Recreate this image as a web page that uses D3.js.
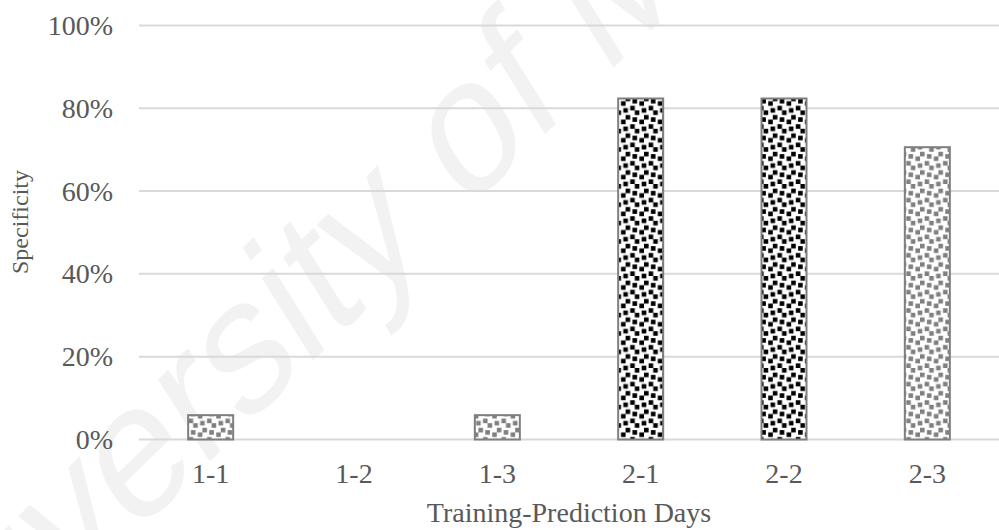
<!DOCTYPE html>
<html>
<head>
<meta charset="utf-8">
<script src="https://cdn.jsdelivr.net/npm/d3@7"></script>
<style>
  html, body { margin: 0; padding: 0; background: #fff; }
  svg { display: block; }
</style>
</head>
<body>
<svg id="chart" width="999" height="530"></svg>
<script>
// Specificity per training/prediction-day split
const categories = ["1-1", "1-2", "1-3", "2-1", "2-2", "2-3"];
const specificity = [0.0588, 0, 0.0588, 0.8235, 0.8235, 0.7059];
const yTicks = [0, 0.2, 0.4, 0.6, 0.8, 1.0];
const yTitle = "Specificity";
const xTitle = "Training-Prediction Days";
const watermark = "University of Malaya";

const svg = d3.select("#chart");
const plot = { left: 139, right: 999, top: 25.4, bottom: 439.5 };

const textColor = "#595959";
const gridColor = "#d9d9d9";
const serif = "'Liberation Serif', 'Times New Roman', serif";

const x = d3.scaleBand()
  .domain(categories)
  .range([plot.left, plot.right])
  .paddingInner(0.686)
  .paddingOuter(0.343);

const y = d3.scaleLinear()
  .domain([0, 1])
  .range([plot.bottom, plot.top]);

// Confetti fill patterns (8x8 bit tile, 2x2 blocks)
const unit = 2.3;
const confettiBlocks = [[4, 0], [0, 2], [3, 3], [6, 4], [2, 6], [7, 7]];
const defs = svg.append("defs");
const patternFor = d3.scaleOrdinal()
  .domain(categories)
  .range(["conf-grey", "conf-grey", "conf-grey", "conf-black", "conf-black", "conf-grey"]);
[["conf-grey", "#7f7f7f"], ["conf-black", "#000000"]].forEach(([id, ink]) => {
  const p = defs.append("pattern")
    .attr("id", id)
    .attr("patternUnits", "userSpaceOnUse")
    .attr("width", unit * 8)
    .attr("height", unit * 8);
  p.append("rect").attr("width", unit * 8).attr("height", unit * 8).attr("fill", "#fff");
  confettiBlocks.forEach(([c, r]) => {
    // blocks that run past the tile edge wrap round to the other side
    [0, -8].forEach(dx => [0, -8].forEach(dy => {
      p.append("rect")
        .attr("x", (c + dx) * unit)
        .attr("y", (r + dy) * unit)
        .attr("width", unit * 2)
        .attr("height", unit * 2)
        .attr("fill", ink);
    }));
  });
});

// Faint watermark behind the chart
svg.append("text")
  .attr("transform", "translate(-118,782) scale(0.8,1) rotate(-38)")
  .attr("font-family", "'Liberation Sans', Arial, sans-serif")
  .attr("font-size", 198)
  .attr("fill", "#000")
  .attr("fill-opacity", 0.05)
  .text(watermark);

// Horizontal gridlines
svg.append("g")
  .attr("class", "grid")
  .selectAll("line")
  .data(yTicks)
  .join("line")
  .attr("x1", plot.left)
  .attr("x2", plot.right)
  .attr("y1", d => y(d))
  .attr("y2", d => y(d))
  .attr("stroke", gridColor)
  .attr("stroke-width", 2);

// Y axis labels
const yAxis = svg.append("g")
  .attr("transform", `translate(${plot.left},0)`)
  .call(d3.axisLeft(y).tickValues(yTicks).tickFormat(d3.format(".0%")).tickSize(0).tickPadding(26));
yAxis.select(".domain").remove();
yAxis.selectAll("text")
  .attr("font-family", serif)
  .attr("font-size", 28)
  .attr("fill", textColor);

// X axis labels
const xAxis = svg.append("g")
  .attr("transform", `translate(0,${plot.bottom})`)
  .call(d3.axisBottom(x).tickSize(0).tickPadding(23.5));
xAxis.select(".domain").remove();
xAxis.selectAll("text")
  .attr("font-family", serif)
  .attr("font-size", 28)
  .attr("fill", textColor);

// Bars
svg.append("g")
  .selectAll("rect")
  .data(categories.map((c, i) => ({ c, v: specificity[i] })).filter(d => d.v > 0))
  .join("rect")
  .attr("x", d => x(d.c))
  .attr("y", d => y(d.v))
  .attr("width", x.bandwidth())
  .attr("height", d => y(0) - y(d.v))
  .attr("fill", d => `url(#${patternFor(d.c)})`)
  .attr("stroke", "#7f7f7f")
  .attr("stroke-width", 2);

// Axis titles
svg.append("text")
  .attr("transform", "translate(28,222) rotate(-90)")
  .attr("text-anchor", "middle")
  .attr("font-family", serif)
  .attr("font-size", 24)
  .attr("fill", textColor)
  .text(yTitle);

svg.append("text")
  .attr("x", (plot.left + plot.right) / 2)
  .attr("y", 522)
  .attr("text-anchor", "middle")
  .attr("font-family", serif)
  .attr("font-size", 28)
  .attr("fill", textColor)
  .text(xTitle);
</script>
</body>
</html>
